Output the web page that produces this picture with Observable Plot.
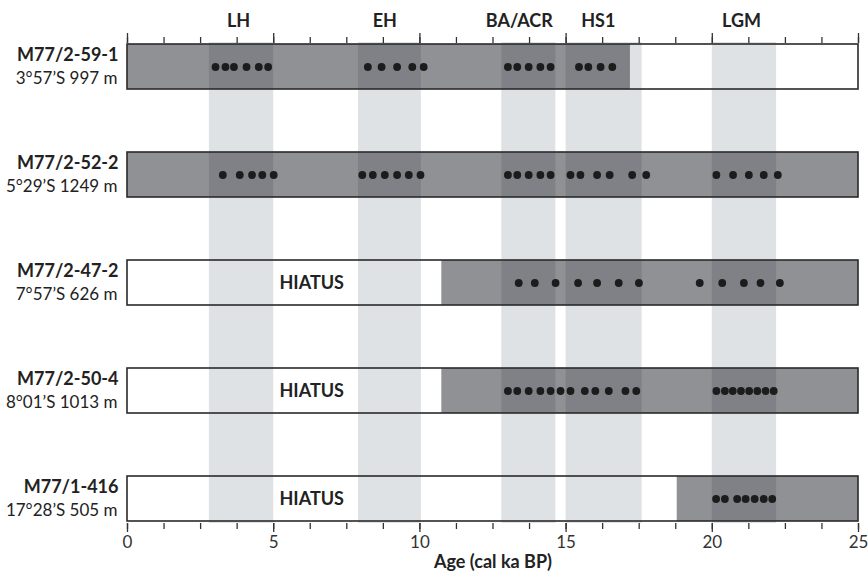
<!DOCTYPE html>
<html><head><meta charset="utf-8">
<script src="https://cdn.jsdelivr.net/npm/d3@7"></script>
<script src="https://cdn.jsdelivr.net/npm/@observablehq/plot@0.6"></script>
<style>body{margin:0;background:#fff} #chart svg{display:block}</style>
</head><body><div id="chart"></div>
<script>
const cores = ["M77/2-59-1","M77/2-52-2","M77/2-47-2","M77/2-50-4","M77/1-416"];
const locations = ["3°57’S 997 m","5°29’S 1249 m","7°57’S 626 m","8°01’S 1013 m","17°28’S 505 m"];
const recordStart = [0, 0, 10.75, 10.75, 18.8];
const recordEnd = [17.2, 25, 25, 25, 25];
const hiatusCores = ["M77/2-47-2","M77/2-50-4","M77/1-416"];
const hiatusAge = 6.3;
const periods = ["LH","EH","BA/ACR","HS1","LGM"];
const periodStart = [2.8, 7.9, 12.8, 15.0, 20.0];
const periodEnd = [5.0, 10.05, 14.65, 17.6, 22.2];
const periodLabelAge = [3.8, 8.8, 13.4, 16.1, 21.0];
const minorTicks = [0,1.25,2.5,3.75,5,6.25,7.5,8.75,10,11.25,12.5,13.75,15,16.25,17.5,18.75,20,21.25,22.5,23.75,25];
const majorTicks = [0,5,10,15,20,25];
const dates_59_1 = [3.01,3.35,3.64,4.07,4.49,4.81, 8.22,8.69,9.22,9.74,10.13, 13.01,13.33,13.72,14.12,14.47, 15.44,15.76,16.18,16.58];
const dates_52_2 = [3.26,3.84,4.26,4.61,5.0, 8.03,8.39,8.80,9.22,9.62,10.02, 13.01,13.33,13.72,14.12,14.47, 15.15,15.49,16.06,16.49,17.26,17.74, 20.14,20.71,21.25,21.76,22.24];
const dates_47_2 = [13.38,13.93,14.64,15.41,16.06,16.80,17.49, 19.57,20.34,21.08,21.65,22.31];
const dates_50_4 = [13.01,13.33,13.72,14.12,14.47,14.81,15.15,15.64,16.0,16.46,17.03,17.40, 20.14,20.43,20.70,20.98,21.26,21.54,21.82,22.10];
const dates_1_416 = [20.13,20.43,20.85,21.14,21.45,21.76,22.05];

const coreTable = cores.map((c,i) => ({core:c, loc:locations[i], start:recordStart[i], end:recordEnd[i]}));
const periodTable = periods.map((p,i) => ({name:p, start:periodStart[i], end:periodEnd[i], lx:periodLabelAge[i]}));
const allDates = [dates_59_1, dates_52_2, dates_47_2, dates_50_4, dates_1_416]
  .flatMap((arr,i) => arr.map(a => ({core:cores[i], age:a})));

const font = "Lato";
const chart = Plot.plot({
  width: 868, height: 577,
  marginLeft: 127, marginRight: 10, marginTop: 42, marginBottom: 54,
  x: {domain: [0, 25]},
  y: {domain: cores, paddingInner: 0.587, paddingOuter: 0, axis: null},
  style: {fontFamily: font, color: "#222", background: "#fff"},
  marks: [
    Plot.rect(periodTable, {x1: "start", x2: "end", fill: "#dfe2e5"}),
    Plot.barX(coreTable, {x1: "start", x2: "end", y: "core", fill: "#0e1015", fillOpacity: 0.46}),
    Plot.dot(allDates, {x: "age", y: "core", r: 3.9, fill: "#1c1c1c", stroke: "none"}),
    Plot.barX(coreTable, {x1: 0, x2: 25, y: "core", fill: "none", stroke: "#2a2a2a", strokeWidth: 1.6}),
    Plot.text(hiatusCores, {x: hiatusAge, y: d => d, text: () => "HIATUS", fontWeight: "bold", fontSize: 18, fill: "#222"}),
    Plot.text(coreTable, {x: 0, y: "core", text: "core", textAnchor: "end", dx: -9, dy: -12, fontWeight: "bold", fontSize: 18, fill: "#222"}),
    Plot.text(coreTable, {x: 0, y: "core", text: "loc", textAnchor: "end", dx: -10, dy: 12, fontSize: 17, fill: "#222"}),
    Plot.text(periodTable, {x: "lx", text: "name", frameAnchor: "top", lineAnchor: "middle", dy: -21, fontWeight: "bold", fontSize: 18, fill: "#222"}),
    Plot.axisX({anchor: "top", ticks: minorTicks, tickSize: 6, tickFormat: () => "", label: null, strokeWidth: 1.3, stroke: "#333"}),
    Plot.axisX({anchor: "top", ticks: majorTicks, tickSize: 10, tickFormat: () => "", label: null, strokeWidth: 1.3, stroke: "#333"}),
    Plot.axisX({anchor: "bottom", ticks: minorTicks, tickSize: 6, tickFormat: () => "", label: null, strokeWidth: 1.3, stroke: "#333"}),
    Plot.axisX({anchor: "bottom", ticks: majorTicks, tickSize: 9, tickPadding: 3, label: null, fontSize: 17, strokeWidth: 1.3, stroke: "#333", fill: "#333"}),
    Plot.text(["Age (cal ka BP)"], {frameAnchor: "bottom", dy: 44, text: d => d, fontWeight: "bold", fontSize: 18, fill: "#222"})
  ]
});
document.getElementById("chart").appendChild(chart);
</script>
</body></html>
